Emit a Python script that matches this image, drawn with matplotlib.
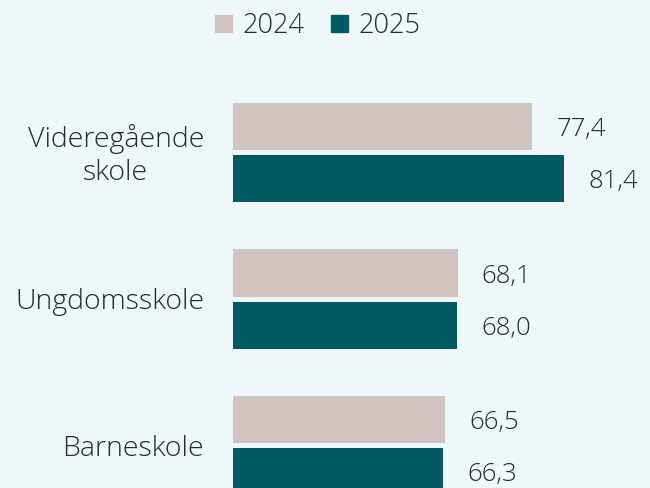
import matplotlib
matplotlib.use("Agg")
import matplotlib.pyplot as plt
from matplotlib.patches import Patch

categories = ["Videregående\nskole", "Ungdomsskole", "Barneskole"]
series_names = ["2024", "2025"]
values_2024 = [77.4, 68.1, 66.5]
values_2025 = [81.4, 68.0, 66.3]

bg = "#eef7f9"
c24 = "#d0c4c0"
c25 = "#005a63"
tc = "#2a2a2a"
font = "Open Sans"
wt = "light"

fig = plt.figure(figsize=(6.5, 4.88), dpi=100, facecolor=bg)
ax = fig.add_axes([233/650, 0, 417/650, 1])
ax.set_facecolor(bg)

off = 26/146.5
h = 47/146.5
ys = list(range(len(categories)))
ax.barh([y - off for y in ys], values_2024, height=h, color=c24, left=0)
ax.barh([y + off for y in ys], values_2025, height=h, color=c25, left=0)

ax.set_xlim(40, 40 + 417/8)
ax.set_ylim((488 - 152.5)/146.5, -152.5/146.5)
ax.axis("off")

def fmt(v):
    return f"{v:.1f}".replace(".", ",")

for y, v in zip(ys, values_2024):
    ax.annotate(fmt(v), (v, y - off), xytext=(24, -3), textcoords="offset pixels",
                ha="left", va="center", fontsize=18.5, color=tc, family=font, fontweight=wt)
for y, v in zip(ys, values_2025):
    ax.annotate(fmt(v), (v, y + off), xytext=(24, -3), textcoords="offset pixels",
                ha="left", va="center", fontsize=18.5, color=tc, family=font, fontweight=wt)

for y, c in zip(ys, categories):
    ax.annotate(c, (40, y), xytext=(-29, -3), textcoords="offset pixels",
                ha="right", va="center", multialignment="center", fontsize=20.5,
                color=tc, family=font, fontweight=wt, linespacing=1.2,
                annotation_clip=False)

handles = [Patch(color=c24), Patch(color=c25)]
fig.legend(handles, series_names, loc="center", bbox_to_anchor=(318/650, 1 - 26/488),
           ncol=2, frameon=False, handlelength=0.6, handleheight=0.6,
           handletextpad=0.4, columnspacing=1.0,
           prop={"family": font, "size": 19.5, "weight": wt}, labelcolor=tc)

fig.savefig("out.png", dpi=100, facecolor=bg)
